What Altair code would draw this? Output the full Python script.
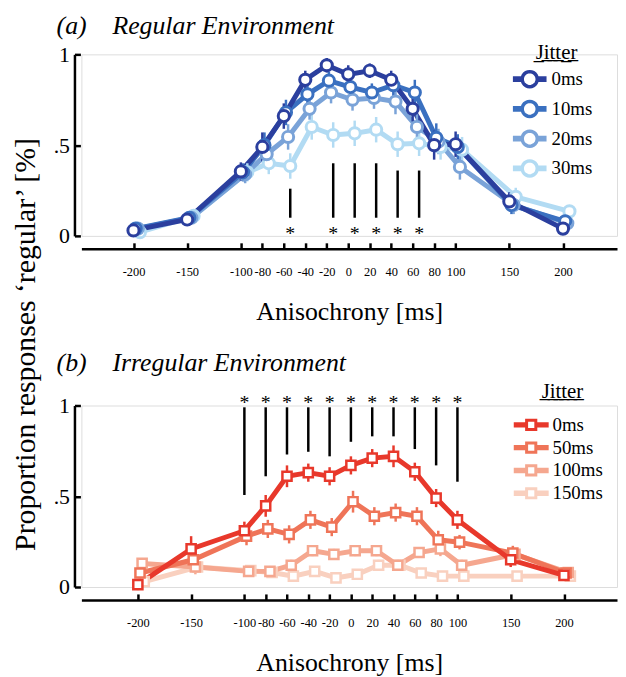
import math
import altair as alt
import pandas as pd

# ---------------- data ----------------
anisochrony = [-200, -150, -100, -80, -60, -40, -20, 0, 20, 40, 60, 80, 100, 150, 200]
tick_values = [-200, -150, -100, -80, -60, -40, -20, 0, 20, 40, 60, 80, 100, 150, 200]
y_ticks = [0, 0.5, 1]

reg_jitter = ["0ms", "10ms", "20ms", "30ms"]
reg_colors = ["#2b3f9e", "#3a70c0", "#7aa3d8", "#b2dbf3"]
reg_0ms = [0.03, 0.09, 0.355, 0.49, 0.66, 0.86, 0.94, 0.89, 0.91, 0.86, 0.70, 0.50, 0.505, 0.19, 0.04]
reg_10ms = [0.04, 0.10, 0.35, 0.50, 0.68, 0.78, 0.855, 0.82, 0.79, 0.83, 0.79, 0.54, 0.49, 0.17, 0.08]
reg_20ms = [0.04, 0.10, 0.34, 0.45, 0.545, 0.70, 0.79, 0.75, 0.76, 0.74, 0.60, 0.52, 0.38, 0.17, 0.07]
reg_30ms = [0.02, 0.11, 0.35, 0.40, 0.385, 0.60, 0.556, 0.565, 0.585, 0.505, 0.51, 0.49, 0.475, 0.215, 0.135]
reg_err_0ms = [0.02, 0.03, 0.05, 0.08, 0.07, 0.05, 0.04, 0.05, 0.04, 0.05, 0.07, 0.08, 0.07, 0.05, 0.03]
reg_err_10ms = [0.02, 0.03, 0.05, 0.07, 0.07, 0.06, 0.05, 0.06, 0.05, 0.06, 0.07, 0.08, 0.07, 0.05, 0.03]
reg_err_20ms = [0.02, 0.03, 0.05, 0.07, 0.07, 0.06, 0.06, 0.06, 0.06, 0.07, 0.07, 0.07, 0.07, 0.05, 0.03]
reg_err_30ms = [0.02, 0.03, 0.05, 0.06, 0.07, 0.07, 0.07, 0.07, 0.07, 0.07, 0.07, 0.07, 0.07, 0.05, 0.03]

irr_jitter = ["0ms", "50ms", "100ms", "150ms"]
irr_colors = ["#e8382b", "#ef7458", "#f5a78f", "#f9d0bf"]
irr_0ms = [0.013, 0.21, 0.31, 0.447, 0.61, 0.63, 0.61, 0.67, 0.71, 0.72, 0.635, 0.49, 0.37, 0.15, 0.064]
irr_50ms = [0.077, 0.15, 0.28, 0.32, 0.29, 0.37, 0.33, 0.47, 0.39, 0.41, 0.39, 0.26, 0.247, 0.187, 0.077]
irr_100ms = [0.13, 0.11, 0.086, 0.086, 0.12, 0.20, 0.18, 0.20, 0.20, 0.12, 0.19, 0.21, 0.12, 0.18, 0.08]
irr_150ms = [0.03, 0.11, 0.09, 0.08, 0.06, 0.086, 0.05, 0.07, 0.12, 0.12, 0.077, 0.06, 0.06, 0.06, 0.06]
irr_err_0ms = [0.03, 0.07, 0.05, 0.06, 0.06, 0.05, 0.05, 0.05, 0.05, 0.06, 0.05, 0.05, 0.05, 0.04, 0.03]
irr_err_50ms = [0.03, 0.05, 0.05, 0.05, 0.05, 0.05, 0.05, 0.06, 0.05, 0.05, 0.05, 0.05, 0.04, 0.04, 0.03]
irr_err_100ms = [0.03, 0.04, 0.03, 0.03, 0.03, 0.03, 0.03, 0.03, 0.03, 0.03, 0.03, 0.04, 0.03, 0.03, 0.02]
irr_err_150ms = [0.02, 0.03, 0.02, 0.02, 0.02, 0.02, 0.02, 0.02, 0.03, 0.03, 0.02, 0.02, 0.02, 0.02, 0.02]

reg_sig_at = [-60, -20, 0, 20, 40, 60]
reg_sig_top = [0.26, 0.40, 0.40, 0.40, 0.36, 0.36]
reg_sig_bottom = [0.10, 0.10, 0.10, 0.10, 0.10, 0.10]
reg_star_y = [0.04, 0.04, 0.04, 0.04, 0.04, 0.04]

irr_sig_at = [-100, -80, -60, -40, -20, 0, 20, 40, 60, 80, 100]
irr_sig_top = [0.99] * 11
irr_sig_bottom = [0.507, 0.61, 0.73, 0.745, 0.72, 0.80, 0.83, 0.83, 0.76, 0.67, 0.58]
irr_star_y = [1.04] * 11

FONT = "Liberation Serif"
W, H = 540, 183


def series_frame(labels, values, errors):
    rows = []
    for idx in reversed(range(len(labels))):
        for a, v, e in zip(anisochrony, values[idx], errors[idx]):
            rows.append({"jitter": labels[idx], "idx": idx, "a": a, "v": v, "se": e})
    return pd.DataFrame(rows)


def legend_symbol(kind):
    # marker outline with a thick line through it, drawn as strokes
    if kind == "circle":
        r, bx, dy = 0.95, 2.12, 0.15
        pts = [(r * math.cos(2 * math.pi * k / 24), r * math.sin(2 * math.pi * k / 24))
               for k in range(24)]
        mark = "M" + "L".join(f"{px:.3f},{py:.3f}" for px, py in pts) + "Z"
    else:
        r, bx, dy = 0.58, 2.2, 0.15
        mark = f"M{-r},{-r}L{r},{-r}L{r},{r}L{-r},{r}Z"
    bars = ""
    for s in (-1, 1):
        for d in (-dy, dy):
            bars += f"M{s * bx},{d}L{s * r},{d}"
    return bars + mark


def panel(df, labels, colors, kind, sig_at, sig_top, sig_bot, star_y, sig_shift,
          xdom, title, title_offset, legend_xy, legend_title_pad, ytitle):
    xs = alt.Scale(domain=xdom, nice=False, zero=False)
    ys = alt.Scale(domain=[0, 1], nice=False, zero=False)

    # x: domain line + inward ticks (top-oriented axis moved down below the plot)
    x_ticks_axis = alt.Axis(orient="top", offset=-(H + 13), values=tick_values,
                            tickSize=6, tickWidth=2.5, tickColor="black",
                            domain=True, domainColor="black", domainWidth=2.5,
                            labels=False, grid=False, title=None)
    # x: labels + title
    x_label_axis = alt.Axis(orient="bottom", offset=13, values=tick_values,
                            ticks=False, domain=False, grid=False,
                            labelExpr="'' + datum.value", labelFont=FONT, labelFontSize=12.5,
                            labelColor="black", labelPadding=17, labelOverlap=False,
                            labelFlush=False, title="Anisochrony [ms]", titleFont=FONT,
                            titleFontSize=26, titleFontWeight="normal", titleColor="black",
                            titlePadding=21)
    # y: domain line + inward ticks (right-oriented axis moved to the left edge)
    y_ticks_axis = alt.Axis(orient="right", offset=-(W + 7), values=y_ticks,
                            tickSize=6, tickWidth=2.5, tickColor="black",
                            domain=True, domainColor="black", domainWidth=2.5,
                            labels=False, grid=False, title=None)
    ykw = dict(orient="left", offset=7, values=y_ticks, ticks=False, domain=False,
               grid=False,
               labelExpr="datum.value == 0.5 ? '.5' : format(datum.value, 'd')",
               labelFont=FONT, labelFontSize=22, labelColor="black", labelPadding=5)
    if ytitle:
        ykw.update(title=ytitle, titleFont=FONT, titleFontSize=30,
                   titleFontWeight="normal", titleColor="black", titleY=292,
                   titlePadding=13)
    else:
        ykw.update(title=None)
    y_label_axis = alt.Axis(**ykw)

    cs = alt.Scale(domain=labels, range=colors)
    leg = alt.Legend(
        title="J\u0332i\u0332t\u0332t\u0332e\u0332r\u0332",
        orient="none", legendX=legend_xy[0], legendY=legend_xy[1],
        symbolType=legend_symbol(kind), symbolSize=256, symbolOpacity=1,
        symbolStrokeWidth=3.5 if kind == "circle" else 3, symbolFillColor="white",
        labelFont=FONT, labelFontSize=19, labelColor="black", labelOffset=12,
        titleFont=FONT, titleFontSize=21, titleFontWeight="normal",
        titleColor="black", titleAnchor="middle", titlePadding=legend_title_pad,
        rowPadding=0,
    )
    C = alt.Color("jitter:N", scale=cs, legend=leg)

    base = alt.Chart(df).transform_calculate(
        xd="datum.a + 2 * datum.idx",
        lo="datum.v - datum.se",
        hi="datum.v + datum.se",
    )
    lines = base.mark_line(strokeWidth=5).encode(
        x=alt.X("xd:Q", scale=xs, axis=x_ticks_axis),
        y=alt.Y("v:Q", scale=ys, axis=y_ticks_axis),
        color=C,
    )
    errs = base.mark_rule(strokeWidth=2.5).encode(
        x=alt.X("xd:Q", scale=xs, axis=x_label_axis),
        y=alt.Y("lo:Q", scale=ys, axis=y_label_axis), y2="hi:Q",
        color=C,
    )
    X = alt.X("xd:Q", scale=xs, axis=None)
    if kind == "circle":
        pts = base.mark_point(shape="circle", size=127, filled=False, fill="white",
                              strokeWidth=3, opacity=1)
    else:
        pts = base.mark_point(shape="square", size=85, filled=False, fill="white",
                              strokeWidth=2.5, opacity=1)
    pts = pts.encode(x=X, y=alt.Y("v:Q", scale=ys, axis=None), color=C)

    sig_df = pd.DataFrame({"a": sig_at, "top": sig_top, "bot": sig_bot, "star": star_y})
    sig = alt.Chart(sig_df).mark_rule(color="black", strokeWidth=2.5, xOffset=sig_shift).encode(
        x=alt.X("a:Q", scale=xs, axis=None),
        y=alt.Y("bot:Q", scale=ys, axis=None), y2="top:Q",
    )
    stars = alt.Chart(sig_df).mark_text(text="*", font=FONT, fontSize=20, color="black",
                                        dx=sig_shift, dy=5).encode(
        x=alt.X("a:Q", scale=xs, axis=None),
        y=alt.Y("star:Q", scale=ys, axis=None),
    )
    return alt.layer(lines, errs, pts, sig, stars).resolve_axis(
        x="independent", y="independent"
    ).properties(
        width=W, height=H,
        title=alt.TitleParams(text=title, anchor="start", frame="group", dx=-25,
                              offset=title_offset, font=FONT, fontSize=26,
                              fontStyle="italic", fontWeight="normal", color="black"),
    )


reg_df = series_frame(reg_jitter, [reg_0ms, reg_10ms, reg_20ms, reg_30ms],
                      [reg_err_0ms, reg_err_10ms, reg_err_20ms, reg_err_30ms])
irr_df = series_frame(irr_jitter, [irr_0ms, irr_50ms, irr_100ms, irr_150ms],
                      [irr_err_0ms, irr_err_50ms, irr_err_100ms, irr_err_150ms])

top = panel(reg_df, reg_jitter, reg_colors, "circle", reg_sig_at, reg_sig_top,
            reg_sig_bottom, reg_star_y, 6.5, [-248.5, 250.3],
            "(a)\u00a0\u00a0\u00a0\u00a0Regular Environment", 3.5, (442, -12), 6,
            "Proportion responses \u2018regular\u2019 [%]")
bottom = panel(irr_df, irr_jitter, irr_colors, "square", irr_sig_at, irr_sig_top,
               irr_sig_bottom, irr_star_y, 0, [-253.0, 249.8],
               "(b)\u00a0\u00a0\u00a0\u00a0Irregular Environment", 5, (444, -25), 14, None)

chart = alt.vconcat(top, bottom, spacing=171, bounds="flush").resolve_scale(
    color="independent"
).properties(
    padding={"left": 2, "top": 2, "right": 0, "bottom": 0}
).configure_view(stroke=None).configure(font=FONT)

chart.save("out.html", embed_options={"renderer": "svg", "actions": False})
